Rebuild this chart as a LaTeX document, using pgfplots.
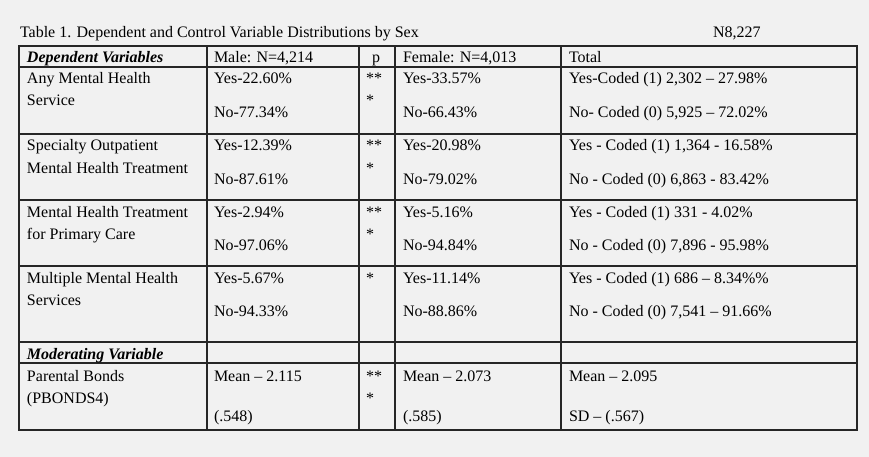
\documentclass[border=0pt]{standalone}
\usepackage{fontspec}
\setmainfont{Liberation Serif}
\usepackage{pgfplots}
\pgfplotsset{compat=1.18}
\definecolor{bg}{RGB}{241,241,241}
\definecolor{rulec}{RGB}{38,38,38}
\tikzset{cell/.style={anchor=base west},
  hl/.style={rulec,line width=1.7pt,line cap=rect}}
\begin{document}
\begin{tikzpicture}[every node/.style={inner sep=0pt,outer sep=0pt,font=\fontsize{16}{19}\selectfont,text=black}]
\begin{axis}[width=869pt,height=457pt,scale only axis,xmin=0,xmax=869,ymin=0,ymax=457,
  y dir=reverse,hide axis,clip=false]
\fill[bg] (axis cs:0,0) rectangle (axis cs:869,457);
% horizontal rules
\addplot[hl] coordinates {(19,46) (857,46)};
\addplot[hl] coordinates {(19,67) (857,67)};
\addplot[hl] coordinates {(19,134) (857,134)};
\addplot[hl] coordinates {(19,200) (857,200)};
\addplot[hl] coordinates {(19,266) (857,266)};
\addplot[hl] coordinates {(19,342) (857,342)};
\addplot[hl] coordinates {(19,363) (857,363)};
\addplot[hl] coordinates {(19,430) (857,430)};
% vertical rules
\addplot[hl] coordinates {(19,46) (19,430)};
\addplot[hl] coordinates {(207,46) (207,430)};
\addplot[hl] coordinates {(359,46) (359,430)};
\addplot[hl] coordinates {(395,46) (395,430)};
\addplot[hl] coordinates {(561,46) (561,430)};
\addplot[hl] coordinates {(857,46) (857,430)};
% title
\node[cell] at (axis cs:20,38) {Table 1. Dependent and Control Variable Distributions by Sex};
\node[cell] at (axis cs:713,38) {N8,227};
% header
\node[cell] at (axis cs:27,63) {\textbf{\textit{Dependent Variables}}};
\node[cell] at (axis cs:214,63) {Male: N=4,214};
\node[anchor=base] at (axis cs:376,63) {p};
\node[cell] at (axis cs:403,63) {Female: N=4,013};
\node[cell] at (axis cs:569,63) {Total};
% row 1
\node[cell] at (axis cs:27,84) {Any Mental Health};
\node[cell] at (axis cs:27,106) {Service};
\node[cell] at (axis cs:214,84) {Yes-22.60\%};
\node[cell] at (axis cs:214,118) {No-77.34\%};
\node[cell] at (axis cs:366,84) {**};
\node[cell] at (axis cs:366,106) {*};
\node[cell] at (axis cs:403,84) {Yes-33.57\%};
\node[cell] at (axis cs:403,118) {No-66.43\%};
\node[cell] at (axis cs:569,84) {Yes-Coded (1) 2,302 – 27.98\%};
\node[cell] at (axis cs:569,118) {No- Coded (0) 5,925 – 72.02\%};
% row 2
\node[cell] at (axis cs:27,151) {Specialty Outpatient};
\node[cell] at (axis cs:27,173) {Mental Health Treatment};
\node[cell] at (axis cs:214,151) {Yes-12.39\%};
\node[cell] at (axis cs:214,184) {No-87.61\%};
\node[cell] at (axis cs:366,151) {**};
\node[cell] at (axis cs:366,173) {*};
\node[cell] at (axis cs:403,151) {Yes-20.98\%};
\node[cell] at (axis cs:403,184) {No-79.02\%};
\node[cell] at (axis cs:569,151) {Yes - Coded (1) 1,364 - 16.58\%};
\node[cell] at (axis cs:569,184) {No - Coded (0) 6,863 - 83.42\%};
% row 3
\node[cell] at (axis cs:27,217) {Mental Health Treatment};
\node[cell] at (axis cs:27,239) {for Primary Care};
\node[cell] at (axis cs:214,217) {Yes-2.94\%};
\node[cell] at (axis cs:214,250) {No-97.06\%};
\node[cell] at (axis cs:366,217) {**};
\node[cell] at (axis cs:366,239) {*};
\node[cell] at (axis cs:403,217) {Yes-5.16\%};
\node[cell] at (axis cs:403,250) {No-94.84\%};
\node[cell] at (axis cs:569,217) {Yes - Coded (1) 331 - 4.02\%};
\node[cell] at (axis cs:569,250) {No - Coded (0) 7,896 - 95.98\%};
% row 4
\node[cell] at (axis cs:27,283) {Multiple Mental Health};
\node[cell] at (axis cs:27,305) {Services};
\node[cell] at (axis cs:214,283) {Yes-5.67\%};
\node[cell] at (axis cs:214,316) {No-94.33\%};
\node[cell] at (axis cs:366,283) {*};
\node[cell] at (axis cs:403,283) {Yes-11.14\%};
\node[cell] at (axis cs:403,316) {No-88.86\%};
\node[cell] at (axis cs:569,283) {Yes - Coded (1) 686 – 8.34\%\%};
\node[cell] at (axis cs:569,316) {No - Coded (0) 7,541 – 91.66\%};
% moderating
\node[cell] at (axis cs:27,359) {\textbf{\textit{Moderating Variable}}};
% row 5
\node[cell] at (axis cs:27,381) {Parental Bonds};
\node[cell] at (axis cs:27,403) {(PBONDS4)};
\node[cell] at (axis cs:214,381) {Mean – 2.115};
\node[cell] at (axis cs:214,421) {(.548)};
\node[cell] at (axis cs:366,381) {**};
\node[cell] at (axis cs:366,403) {*};
\node[cell] at (axis cs:403,381) {Mean – 2.073};
\node[cell] at (axis cs:403,421) {(.585)};
\node[cell] at (axis cs:569,381) {Mean – 2.095};
\node[cell] at (axis cs:569,421) {SD – (.567)};
\end{axis}
\end{tikzpicture}
\end{document}
